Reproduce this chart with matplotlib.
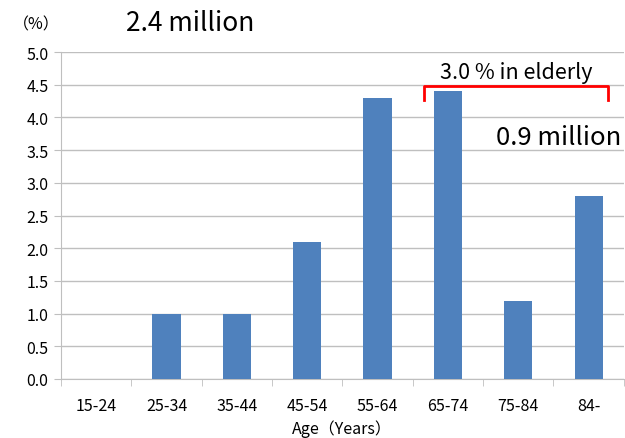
import matplotlib
matplotlib.use("Agg")
import matplotlib.pyplot as plt
import numpy as np

plt.rcParams["font.family"] = ["Noto Sans CJK JP", "DejaVu Sans"]

age_groups = ["15-24", "25-34", "35-44", "45-54", "55-64", "65-74", "75-84", "84-"]
prevalence = [0.0, 1.0, 1.0, 2.1, 4.3, 4.4, 1.2, 2.8]
y_ticks = [0.0, 0.5, 1.0, 1.5, 2.0, 2.5, 3.0, 3.5, 4.0, 4.5, 5.0]

bar_color = "#4f81bd"
grid_color = "#bfbfbf"

fig = plt.figure(figsize=(6.25, 4.39), dpi=100)
ax = fig.add_axes([0.0976, 0.1344, 0.9004, 0.7448])

x = np.arange(len(age_groups))
ax.bar(x, prevalence, width=0.4, color=bar_color, zorder=3)

ax.set_xlim(-0.5, len(age_groups) - 0.5)
ax.set_ylim(0, 5.0)
ax.set_yticks(y_ticks)
ax.set_yticklabels([f"{v:.1f}" for v in y_ticks], fontsize=11.5)
ax.yaxis.grid(True, color=grid_color, linewidth=1, zorder=0)

ax.set_xticks(x)
ax.set_xticklabels(age_groups, fontsize=11.5)
ax.set_xticks(np.arange(-0.5, len(age_groups)), minor=True)
ax.tick_params(axis="x", which="major", length=0, pad=13)
ax.tick_params(axis="x", which="minor", length=5, color=grid_color)
ax.tick_params(axis="y", length=5, color=grid_color, pad=4)

for side in ("top", "right"):
    ax.spines[side].set_visible(False)
for side in ("left", "bottom"):
    ax.spines[side].set_color(grid_color)

ax.set_xlabel("Age（Years）", fontsize=11.5, labelpad=4)

# (%) unit label above the y axis
fig.text(0.02, 0.943, "（%）", fontsize=11.5, ha="left", va="center")
fig.text(0.305, 0.947, "2.4 million", fontsize=19, ha="center", va="center")

# bracket over the elderly age groups
bx0, bx1, btop, bbot = 4.66, 7.28, 4.48, 4.27
ax.plot([bx0, bx0, bx1, bx1], [bbot, btop, btop, bbot], color="red",
        linewidth=2, clip_on=False, zorder=4)
ax.text((bx0 + bx1) / 2, 4.7, "3.0 % in elderly", fontsize=15.5,
        ha="center", va="center")
ax.text(5.68, 3.7, "0.9 million", fontsize=18.5, ha="left", va="center")

fig.savefig("out.png", dpi=100)
